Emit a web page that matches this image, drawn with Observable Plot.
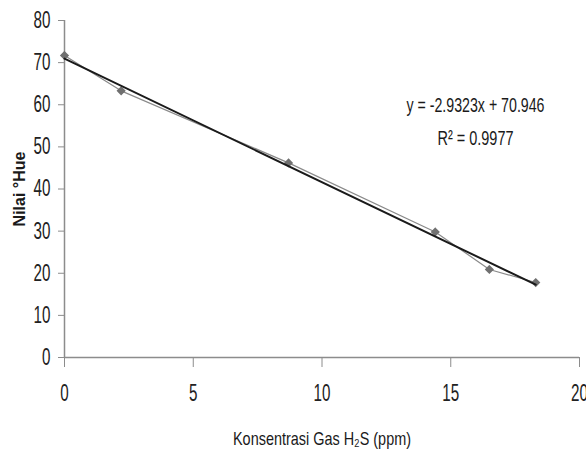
<!DOCTYPE html>
<html>
<head>
<meta charset="utf-8">
<script src="https://cdn.jsdelivr.net/npm/d3@7"></script>
<script src="https://cdn.jsdelivr.net/npm/@observablehq/plot@0.6"></script>
<style>
  html, body { margin: 0; padding: 0; background: #fff; }
</style>
</head>
<body>
<div id="chart"></div>
<script>
// Data
const concentration = [0, 2.2, 8.7, 14.4, 16.5, 18.3];   // Konsentrasi Gas H2S (ppm)
const hue = [71.7, 63.3, 46.2, 29.8, 20.9, 17.8];         // Nilai °Hue
const slope = -2.9323;
const intercept = 70.946;
const xTicks = [0, 5, 10, 15, 20];
const yTicks = [0, 10, 20, 30, 40, 50, 60, 70, 80];
const xLabel = "Konsentrasi Gas H₂S (ppm)";
const yLabel = "Nilai °Hue";
const equationText = "y = -2.9323x + 70.946";
const r2Text = "R² = 0.9977";

const points = concentration.map((x, i) => ({x, y: hue[i]}));
const xExtent = d3.extent(concentration);
const trend = xExtent.map(x => ({x, y: slope * x + intercept}));

const sans = "'Liberation Sans', Arial, sans-serif";

const chart = Plot.plot({
  width: 586,
  height: 449,
  marginLeft: 64,
  marginRight: 7,
  marginTop: 20,
  marginBottom: 92,
  style: {fontFamily: sans, fontSize: "22px", background: "#fff", color: "#222"},
  x: {domain: [0, 20]},
  y: {domain: [0, 80]},
  marks: [
    Plot.axisX({
      ticks: xTicks, tickSize: 10, tickPadding: 17, stroke: "#8c8c8c",
      fill: "#222", fontSize: 23, fontFamily: sans, label: null
    }),
    Plot.axisX({
      ticks: [], label: xLabel, labelAnchor: "center", labelArrow: "none", labelOffset: 87,
      fontSize: 19, fontFamily: sans, fill: "#1a1a1a"
    }),
    Plot.axisY({
      ticks: yTicks, tickSize: 6, tickPadding: 8, stroke: "#8c8c8c",
      fill: "#222", fontSize: 23, fontFamily: sans, label: null
    }),
    Plot.axisY({
      ticks: [], label: yLabel, labelAnchor: "center", labelArrow: "none", labelOffset: 51,
      fontSize: 16, fontWeight: "bold", fontFamily: sans, fill: "#1a1a1a", dy: -5
    }),
    Plot.ruleX([0], {stroke: "#8c8c8c", strokeWidth: 1.5}),
    Plot.ruleY([0], {stroke: "#8c8c8c", strokeWidth: 1.5}),
    Plot.line(points, {x: "x", y: "y", stroke: "#8a8a8a", strokeWidth: 1.2}),
    Plot.dot(points, {x: "x", y: "y", symbol: "diamond2", r: 3.2, fill: "#707070", stroke: "#707070"}),
    Plot.line(trend, {x: "x", y: "y", stroke: "#1a1a1a", strokeWidth: 2}),
    Plot.text([equationText], {frameAnchor: "top-right", dx: -104, dy: 77, text: d => d, fontSize: 20, fontFamily: sans, fill: "#1a1a1a", textAnchor: "middle"}),
    Plot.text([r2Text], {frameAnchor: "top-right", dx: -104, dy: 110, text: d => d, fontSize: 20, fontFamily: sans, fill: "#1a1a1a", textAnchor: "middle"})
  ]
});
document.getElementById("chart").appendChild(chart);

// Condense texts horizontally to mimic the narrow typeface of the reference
const targetWidths = new Map([[equationText, 138], [r2Text, 76], [xLabel, 178]]);
chart.querySelectorAll("text").forEach(t => {
  const s = t.textContent;
  let target = targetWidths.get(s);
  if (target == null && /^\d+$/.test(s)) target = t.getComputedTextLength() * 0.66;
  if (target != null) {
    t.setAttribute("textLength", target);
    t.setAttribute("lengthAdjust", "spacingAndGlyphs");
  }
});
</script>
</body>
</html>
